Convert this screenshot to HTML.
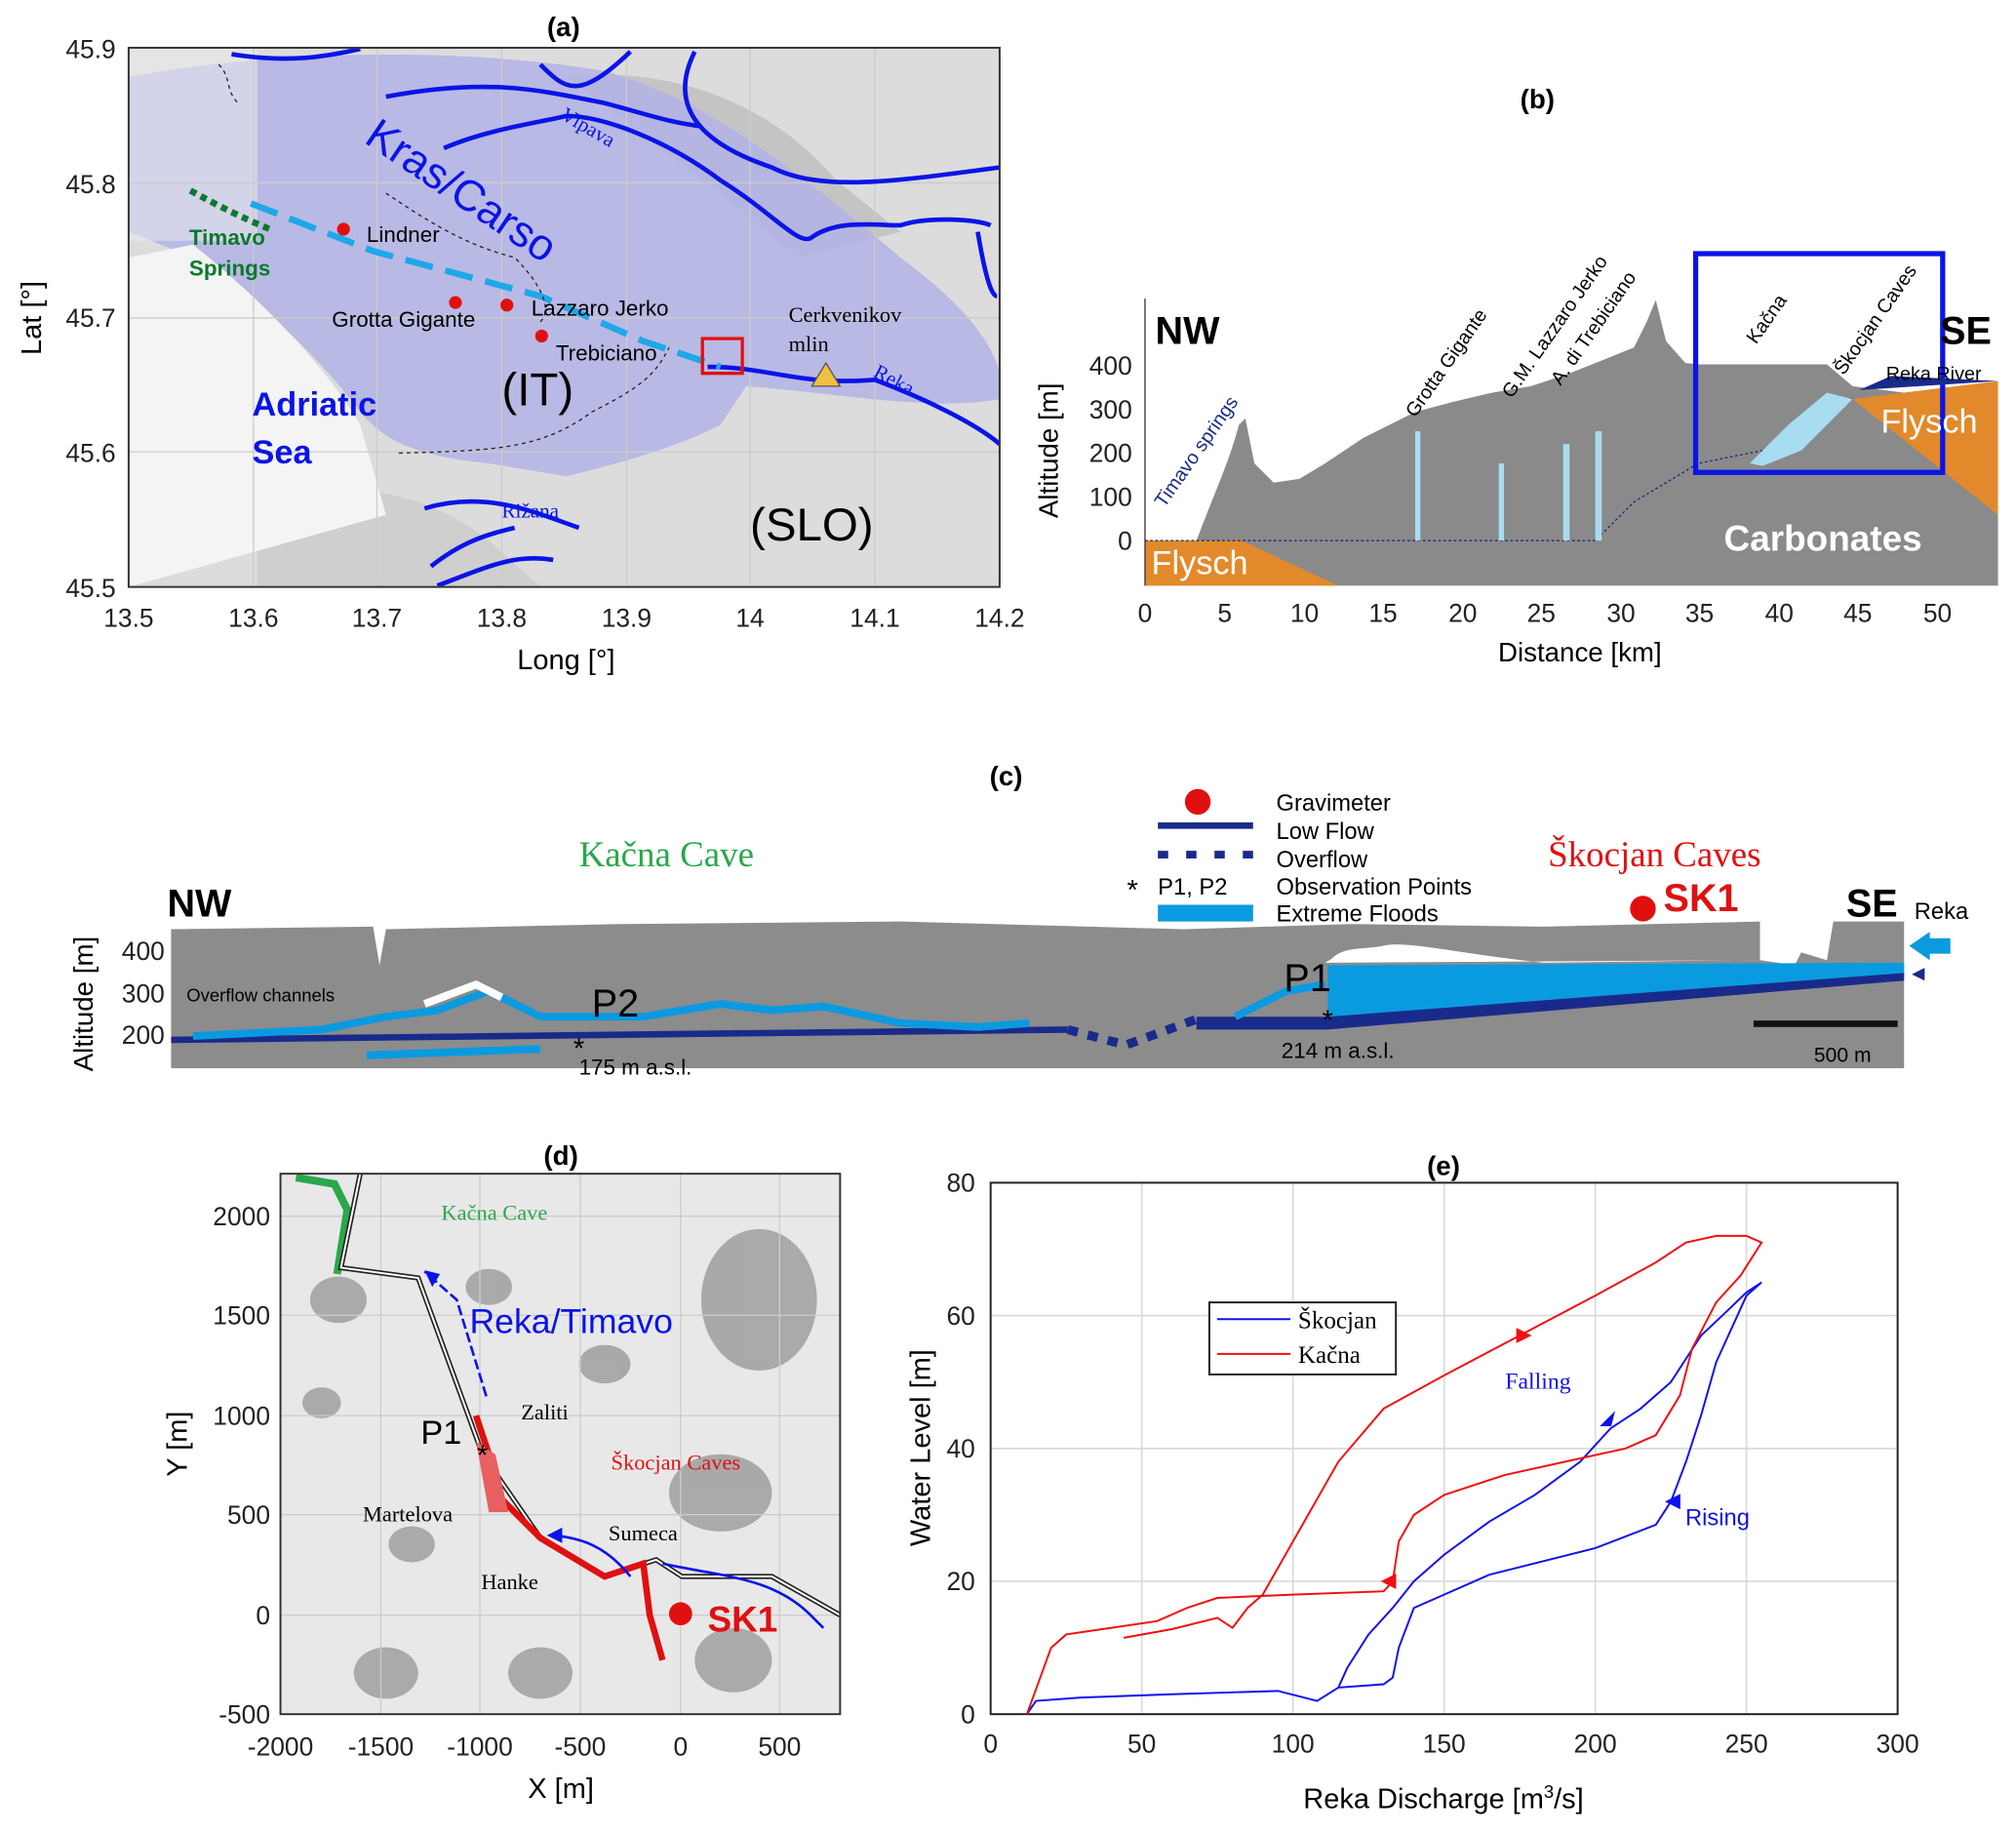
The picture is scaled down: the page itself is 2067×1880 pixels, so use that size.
<!DOCTYPE html>
<html><head><meta charset="utf-8"><style>
html,body{margin:0;padding:0;background:#fff}
svg{display:block;font-family:"Liberation Sans",sans-serif}
.tk{font-size:20px;fill:#222}
.ser{font-family:"Liberation Serif",serif}
</style></head><body>
<svg id="fig" width="2067" height="1880" viewBox="0 0 1567 1425" xmlns="http://www.w3.org/2000/svg">
<!-- ================= PANEL A ================= -->
<g>
<text x="438" y="28" font-size="21" font-weight="bold" text-anchor="middle">(a)</text>
<rect x="100" y="37" width="677" height="419" fill="#dcdcdc"/>
<path d="M440,60 C520,50 600,80 650,140 L700,180 620,200 560,150 Z" fill="#c4c4c4"/>
<path d="M200,390 C260,370 330,380 380,420 L420,456 200,456 Z" fill="#cfcfcf"/>
<path d="M100,60 C200,40 350,35 470,55 C560,80 640,150 700,200 C740,230 770,260 777,290 L777,310 C720,320 650,305 580,300 L560,330 C520,350 480,360 440,370 L380,360 C330,355 300,345 280,320 C250,280 200,230 150,200 L100,180 Z" fill="#b3b3e6" opacity="0.85"/>
<rect x="100" y="37" width="100" height="150" fill="#eeeeee" opacity="0.5"/>
<path d="M100,200 L150,190 C200,230 250,280 280,330 L300,400 L100,456 Z" fill="#f4f4f4"/>
<g stroke="#ccc" stroke-width="1">
<line x1="197" y1="37" x2="197" y2="456"/><line x1="293" y1="37" x2="293" y2="456"/><line x1="390" y1="37" x2="390" y2="456"/><line x1="487" y1="37" x2="487" y2="456"/><line x1="583" y1="37" x2="583" y2="456"/><line x1="680" y1="37" x2="680" y2="456"/>
<line x1="100" y1="142" x2="777" y2="142"/><line x1="100" y1="247" x2="777" y2="247"/><line x1="100" y1="351" x2="777" y2="351"/>
</g>
<g fill="none" stroke="#0a14e6" stroke-width="3.5">
<path d="M180,42 C230,50 260,42 280,38"/>
<path d="M300,75 C380,60 420,70 470,80 C500,88 520,95 545,98"/>
<path d="M420,50 C440,70 450,78 490,40"/>
<path d="M345,115 C380,100 420,95 440,90 C470,90 520,110 560,140 C600,165 620,190 630,185 C650,170 680,175 700,175 C720,168 760,170 770,175"/>
<path d="M540,40 C520,80 540,110 600,130 C640,150 700,140 777,130"/>
<path d="M760,180 C765,210 770,230 775,230"/>
<path d="M550,285 C600,285 620,300 680,295 C720,310 760,330 777,345"/>
<path d="M330,395 C380,380 420,400 450,410 M335,440 C360,420 380,415 400,410"/>
<path d="M340,455 C380,440 400,430 430,435"/>
</g>
<path d="M148,148 C170,160 190,170 210,178" fill="none" stroke="#0a7a2a" stroke-width="5" stroke-dasharray="5,4"/>
<path d="M195,158 L290,195 L420,230 L500,265 L560,285" fill="none" stroke="#1ea8e8" stroke-width="5" stroke-dasharray="22,10"/>
<path d="M170,50 C180,60 175,70 185,80 M300,150 C330,170 360,190 400,200 C420,220 430,240 420,250" fill="none" stroke="#222" stroke-width="1" stroke-dasharray="3,3"/>
<path d="M310,352 C380,350 420,350 460,320 C500,300 510,290 520,270" fill="none" stroke="#222" stroke-width="1" stroke-dasharray="3,3"/>
<g fill="#e01010"><circle cx="267" cy="178" r="5"/><circle cx="354" cy="235" r="5"/><circle cx="394" cy="237" r="5"/><circle cx="421" cy="261" r="5"/></g>
<rect x="546" y="263" width="31" height="27" fill="none" stroke="#e01010" stroke-width="2.5"/>
<polygon points="642,282 631,300 653,300" fill="#f0c040" stroke="#555"/>
<text x="285" y="188" font-size="17">Lindner</text>
<text x="258" y="254" font-size="17">Grotta Gigante</text>
<text x="413" y="245" font-size="17">Lazzaro Jerko</text>
<text x="432" y="280" font-size="17">Trebiciano</text>
<text x="613" y="250" font-size="17" class="ser">Cerkvenikov</text>
<text x="613" y="273" font-size="17" class="ser">mlin</text>
<text x="282" y="110" font-size="34" fill="#0a14e6" transform="rotate(34 282 110)">Kras/Carso</text>
<text x="435" y="92" font-size="16" fill="#0a14e6" class="ser" transform="rotate(30 435 92)">Vipava</text>
<text x="678" y="292" font-size="16" fill="#0a14e6" class="ser" transform="rotate(28 678 292)">Reka</text>
<text x="390" y="402" font-size="16" fill="#0a14e6" class="ser">Rižana</text>
<text x="147" y="190" font-size="17" font-weight="bold" fill="#0a7a2a">Timavo</text>
<text x="147" y="214" font-size="17" font-weight="bold" fill="#0a7a2a">Springs</text>
<text x="196" y="323" font-size="26" font-weight="bold" fill="#0a14e6">Adriatic</text>
<text x="196" y="360" font-size="26" font-weight="bold" fill="#0a14e6">Sea</text>
<text x="390" y="315" font-size="36">(IT)</text>
<text x="583" y="420" font-size="36">(SLO)</text>
<rect x="100" y="37" width="677" height="419" fill="none" stroke="#333" stroke-width="1.5"/>
<g class="tk" text-anchor="end">
<text x="90" y="45">45.9</text><text x="90" y="150">45.8</text><text x="90" y="254">45.7</text><text x="90" y="359">45.6</text><text x="90" y="464">45.5</text></g>
<g class="tk" text-anchor="middle">
<text x="100" y="487">13.5</text><text x="197" y="487">13.6</text><text x="293" y="487">13.7</text><text x="390" y="487">13.8</text><text x="487" y="487">13.9</text><text x="583" y="487">14</text><text x="680" y="487">14.1</text><text x="777" y="487">14.2</text></g>
<text x="440" y="520" font-size="22" text-anchor="middle">Long [°]</text>
<text x="32" y="247" font-size="22" text-anchor="middle" transform="rotate(-90 32 247)">Lat [°]</text>
</g>

<!-- ================= PANEL B ================= -->
<g>
<text x="1195" y="84" font-size="21" font-weight="bold" text-anchor="middle">(b)</text>
<path d="M890,420 L930,420 C945,380 955,360 963,330 L968,325 975,360 990,375 1010,372 1030,360 1060,340 1080,330 1100,320 1130,312 1160,305 1190,300 1220,290 1250,278 1270,270 1280,250 1287,233 1295,265 1310,282 1320,283 1420,283 1440,300 1480,305 1553,297 L1553,455 L890,455 Z" fill="#8a8a8a"/>
<polygon points="890,420 965,420 1040,455 890,455" fill="#e28a2b"/>
<polygon points="1440,310 1553,296 1553,400" fill="#e28a2b"/>
<path d="M890,420 L1240,420 L1270,390 L1320,360 L1370,350 L1420,310 L1440,310" fill="none" stroke="#23237a" stroke-width="1" stroke-dasharray="2,2"/>
<g fill="#a8dcf0"><rect x="1100" y="335" width="4" height="85"/><rect x="1165" y="360" width="4" height="60"/><rect x="1215" y="345" width="5" height="75"/><rect x="1240" y="335" width="5" height="85"/><polygon points="1360,360 1390,330 1420,305 1440,310 1400,350 1370,362"/></g>
<rect x="1318" y="197" width="192" height="170" fill="none" stroke="#0a14e6" stroke-width="4"/>
<polygon points="1553,296 1445,303 1470,292" fill="#1a2a8a"/>
<line x1="890" y1="232" x2="890" y2="455" stroke="#333" stroke-width="1"/>
<text x="898" y="267" font-size="30" font-weight="bold">NW</text>
<text x="1508" y="267" font-size="30" font-weight="bold">SE</text>
<text x="1466" y="295" font-size="15">Reka River</text>
<text x="1462" y="336" font-size="26" fill="#fff">Flysch</text>
<text x="895" y="446" font-size="26" fill="#fff">Flysch</text>
<text x="1340" y="428" font-size="28" font-weight="bold" fill="#fff">Carbonates</text>
<text x="905" y="395" font-size="15" fill="#1a2a8a" transform="rotate(-55 905 395)">Timavo springs</text>
<g font-size="15">
<text x="1100" y="325" transform="rotate(-55 1100 325)">Grotta Gigante</text>
<text x="1175" y="310" transform="rotate(-55 1175 310)">G.M. Lazzaro Jerko</text>
<text x="1213" y="300" transform="rotate(-55 1213 300)">A. di Trebiciano</text>
<text x="1365" y="268" transform="rotate(-55 1365 268)">Kačna</text>
<text x="1433" y="292" transform="rotate(-55 1433 292)">Škocjan Caves</text></g>
<g class="tk" text-anchor="end">
<text x="880" y="427">0</text><text x="880" y="393">100</text><text x="880" y="359">200</text><text x="880" y="325">300</text><text x="880" y="291">400</text></g>
<g class="tk" text-anchor="middle">
<text x="890" y="483">0</text><text x="952" y="483">5</text><text x="1014" y="483">10</text><text x="1075" y="483">15</text><text x="1137" y="483">20</text><text x="1198" y="483">25</text><text x="1260" y="483">30</text><text x="1321" y="483">35</text><text x="1383" y="483">40</text><text x="1444" y="483">45</text><text x="1506" y="483">50</text></g>
<text x="1228" y="514" font-size="21" text-anchor="middle">Distance [km]</text>
<text x="822" y="350" font-size="21" text-anchor="middle" transform="rotate(-90 822 350)">Altitude [m]</text>
</g>

<!-- ================= PANEL C ================= -->
<g>
<text x="782" y="610" font-size="21" font-weight="bold" text-anchor="middle">(c)</text>
<path d="M133,722 L290,720 L295,750 L300,722 L480,718 L700,716 L920,722 L1050,718 L1200,720 L1368,716 L1368,746 L1395,750 L1400,740 L1420,746 L1425,716 L1480,716 L1480,830 L133,830 Z" fill="#8c8c8c"/>
<path d="M1035,745 C1045,735 1060,738 1075,735 C1090,730 1140,742 1200,748 L1360,746 L1368,746 L1030,748 Z" fill="#fff"/>
<polygon points="1032,750 1480,748 1480,758 1032,795" fill="#0a9ae0"/>
<path d="M133,808 L830,800" fill="none" stroke="#1a2a8a" stroke-width="5"/>
<path d="M830,800 L875,812 L930,792" fill="none" stroke="#1a2a8a" stroke-width="7" stroke-dasharray="8,8"/>
<polygon points="930,790 1032,790 1480,756 1480,762 1032,800 930,800" fill="#1a2a8a"/>
<path d="M150,805 L250,800 L300,790 L340,785 L380,770 L420,790 L500,790 L560,780 L600,785 L640,782 L700,795 L760,798 L800,795 M285,820 L420,815 M960,790 L1000,770 L1030,765" fill="none" stroke="#0a9ae0" stroke-width="6"/>
<path d="M330,780 L370,765 L390,775" fill="none" stroke="#fff" stroke-width="6"/>
<text x="130" y="712" font-size="30" font-weight="bold">NW</text>
<text x="1435" y="712" font-size="30" font-weight="bold">SE</text>
<text x="1488" y="714" font-size="18">Reka</text>
<polygon points="1484,735 1500,724 1500,729 1516,729 1516,741 1500,741 1500,746" fill="#0a9ae0"/>
<polygon points="1486,757 1496,752 1496,762" fill="#1a2a8a"/>
<text x="145" y="778" font-size="14">Overflow channels</text>
<text x="460" y="790" font-size="30">P2</text>
<text x="998" y="770" font-size="30">P1</text>
<text x="450" y="822" font-size="22" text-anchor="middle">*</text>
<text x="1032" y="800" font-size="22" text-anchor="middle">*</text>
<text x="450" y="835" font-size="17">175 m a.s.l.</text>
<text x="996" y="822" font-size="17">214 m a.s.l.</text>
<rect x="1363" y="793" width="112" height="5" fill="#111"/>
<text x="1410" y="825" font-size="16">500 m</text>
<text x="518" y="673" font-size="28" fill="#2aa84a" text-anchor="middle" class="ser">Kačna Cave</text>
<text x="1286" y="673" font-size="28" fill="#e01010" text-anchor="middle" class="ser">Škocjan Caves</text>
<circle cx="1277" cy="706" r="10" fill="#e01010"/>
<text x="1293" y="708" font-size="30" font-weight="bold" fill="#e01010">SK1</text>
<g>
<circle cx="931" cy="623" r="10" fill="#e01010"/><text x="992" y="630" font-size="18">Gravimeter</text>
<rect x="900" y="639" width="74" height="5" fill="#1a2a8a"/><text x="992" y="652" font-size="18">Low Flow</text>
<line x1="900" y1="664" x2="974" y2="664" stroke="#1a2a8a" stroke-width="6" stroke-dasharray="8,14"/><text x="992" y="674" font-size="18">Overflow</text>
<text x="876" y="699" font-size="22">*</text><text x="900" y="695" font-size="18">P1, P2</text><text x="992" y="695" font-size="18">Observation Points</text>
<rect x="900" y="703" width="74" height="13" fill="#0a9ae0"/><text x="992" y="716" font-size="18">Extreme Floods</text></g>
<g class="tk" text-anchor="end"><text x="128" y="746">400</text><text x="128" y="779">300</text><text x="128" y="811">200</text></g>
<text x="72" y="780" font-size="21" text-anchor="middle" transform="rotate(-90 72 780)">Altitude [m]</text>
</g>

<!-- ================= PANEL D ================= -->
<g>
<text x="436" y="905" font-size="21" font-weight="bold" text-anchor="middle">(d)</text>
<rect x="218" y="912" width="435" height="420" fill="#e8e8e8"/>
<g fill="#9a9a9a" opacity="0.8">
<ellipse cx="263" cy="1010" rx="22" ry="18"/><ellipse cx="380" cy="1000" rx="18" ry="14"/><ellipse cx="590" cy="1010" rx="45" ry="55"/><ellipse cx="560" cy="1160" rx="40" ry="30"/><ellipse cx="300" cy="1300" rx="25" ry="20"/><ellipse cx="420" cy="1300" rx="25" ry="20"/><ellipse cx="570" cy="1290" rx="30" ry="25"/><ellipse cx="470" cy="1060" rx="20" ry="15"/><ellipse cx="250" cy="1090" rx="15" ry="12"/><ellipse cx="320" cy="1200" rx="18" ry="14"/></g>
<g stroke="#ccc" stroke-width="1"><line x1="296" y1="912" x2="296" y2="1332"/><line x1="373" y1="912" x2="373" y2="1332"/><line x1="451" y1="912" x2="451" y2="1332"/><line x1="529" y1="912" x2="529" y2="1332"/><line x1="606" y1="912" x2="606" y2="1332"/><line x1="218" y1="945" x2="653" y2="945"/><line x1="218" y1="1022" x2="653" y2="1022"/><line x1="218" y1="1100" x2="653" y2="1100"/><line x1="218" y1="1177" x2="653" y2="1177"/><line x1="218" y1="1255" x2="653" y2="1255"/></g>
<path d="M230,915 L260,920 L270,940 L262,990" fill="none" stroke="#2aa84a" stroke-width="6"/>
<path d="M280,912 L265,985 L325,993 L375,1130 L420,1195 L470,1225 L510,1212 L530,1225 L600,1225 L653,1255" fill="none" stroke="#222" stroke-width="4"/>
<path d="M280,912 L265,985 L325,993 L375,1130 L420,1195 L470,1225 L510,1212 L530,1225 L600,1225 L653,1255" fill="none" stroke="#fff" stroke-width="1.5"/>
<path d="M370,1100 L380,1130 L385,1160 L420,1195 L470,1225 L500,1215 L505,1255 L515,1290" fill="none" stroke="#e01010" stroke-width="5"/>
<polygon points="370,1120 385,1130 395,1175 380,1175" fill="#e86060"/>
<path d="M378,1085 L355,1010 L330,988" fill="none" stroke="#0a14e6" stroke-width="2" stroke-dasharray="8,3"/>
<polygon points="330,987 342,990 336,1000" fill="#0a14e6"/>
<path d="M490,1225 C470,1200 450,1195 430,1193 M515,1215 C560,1225 600,1225 630,1255 L640,1265" fill="none" stroke="#0a14e6" stroke-width="2"/>
<polygon points="425,1193 437,1187 437,1199" fill="#0a14e6"/>
<text x="375" y="1138" font-size="22" text-anchor="middle">*</text>
<text x="327" y="1122" font-size="26">P1</text>
<text x="365" y="1036" font-size="27" fill="#0a14e6">Reka/Timavo</text>
<text x="343" y="948" font-size="17" fill="#2aa84a" class="ser">Kačna Cave</text>
<text x="475" y="1142" font-size="17" fill="#e01010" class="ser">Škocjan Caves</text>
<g font-size="17" class="ser"><text x="405" y="1103">Zaliti</text><text x="282" y="1182">Martelova</text><text x="473" y="1197">Sumeca</text><text x="374" y="1235">Hanke</text></g>
<circle cx="529" cy="1254" r="9" fill="#e01010"/>
<text x="550" y="1268" font-size="28" font-weight="bold" fill="#e01010">SK1</text>
<rect x="218" y="912" width="435" height="420" fill="none" stroke="#333" stroke-width="1.5"/>
<g class="tk" text-anchor="end"><text x="210" y="952">2000</text><text x="210" y="1029">1500</text><text x="210" y="1107">1000</text><text x="210" y="1184">500</text><text x="210" y="1262">0</text><text x="210" y="1339">-500</text></g>
<g class="tk" text-anchor="middle"><text x="218" y="1364">-2000</text><text x="296" y="1364">-1500</text><text x="373" y="1364">-1000</text><text x="451" y="1364">-500</text><text x="529" y="1364">0</text><text x="606" y="1364">500</text></g>
<text x="436" y="1397" font-size="22" text-anchor="middle">X [m]</text>
<text x="145" y="1122" font-size="22" text-anchor="middle" transform="rotate(-90 145 1122)">Y [m]</text>
</g>

<!-- ================= PANEL E ================= -->
<g id="panelE">
<text x="1122" y="913" font-size="21" font-weight="bold" text-anchor="middle">(e)</text>
</g>
</svg>
<script>
const xTicks=[0,50,100,150,200,250,300];
const yTicks=[0,20,40,60,80];
const skocjanQ=[12,15,30,60,95,108,115,130,133,135,140,150,165,200,220,225,230,235,240,245,250,255,250,242,235,225,215,205,195,180,165,150,140,133,125,118,115,108];
const skocjanH=[0,2,2.5,3,3.5,2,4,4.5,5.5,10,16,18,21,25,28.5,32,38,45,53,58,63,65,63.5,60,57,50,46,43,38,33,29,24,20,16,12,7,4,2];
const kacnaQ=[12,20,25,40,55,65,75,100,130,133,135,140,150,170,190,210,220,228,232,240,248,255,250,240,230,220,200,175,150,130,115,105,95,90,85,80,75,60,44];
const kacnaH=[0,10,12,13,14,16,17.5,18,18.5,20,26,30,33,36,38,40,42,48,55,62,66,71,72,72,71,68,63,57,51,46,38,30,22,18,16,13,14.5,12.8,11.5];
const X0=770,X1=1475,Y0=1332,Y1=919;
const sx=q=>X0+(q/300)*(X1-X0);
const sy=h=>Y0-(h/80)*(Y0-Y1);
const NS='http://www.w3.org/2000/svg';
const g=document.getElementById('panelE');
function mk(tag,attrs,parent){const e=document.createElementNS(NS,tag);for(const k in attrs)e.setAttribute(k,attrs[k]);(parent||g).appendChild(e);return e;}
const grid=mk('g',{stroke:'#d8d8d8','stroke-width':1.2});


xTicks.forEach(t=>{mk('line',{x1:sx(t),x2:sx(t),y1:Y1,y2:Y0},grid);
 const tx=mk('text',{x:sx(t),y:Y0+30,'text-anchor':'middle',class:'tk'});tx.textContent=t;
 
 });
yTicks.forEach(t=>{mk('line',{x1:X0,x2:X1,y1:sy(t),y2:sy(t)},grid);
 const tx=mk('text',{x:X0-12,y:sy(t)+7,'text-anchor':'end',class:'tk'});tx.textContent=t;
 
 });
const frame=mk('rect',{x:X0,y:Y1,width:X1-X0,height:Y0-Y1,fill:'none',stroke:'#222','stroke-width':1.5});


function line(qs,hs,col,name){const p=mk('polyline',{points:qs.map((q,i)=>sx(q)+','+sy(hs[i])).join(' '),fill:'none',stroke:col,'stroke-width':1.5});
 
 }
line(skocjanQ,skocjanH,'#1010f0','skocjan-line');
line(kacnaQ,kacnaH,'#f01010','kacna-line');
function arrow(q,h,dir,col,name){const x=sx(q),y=sy(h);let pts;
 if(dir==='r')pts=[[x+7,y],[x-5,y-6],[x-5,y+6]];else if(dir==='l')pts=[[x-7,y],[x+5,y-6],[x+5,y+6]];else pts=[[x-6,y+6],[x+6,y-6],[x+3,y+6]];
 const a=mk('polygon',{points:pts.map(p=>p.join(',')).join(' '),fill:col});
 
 }
arrow(176,57,'r','#f01010','kacna-falling-arrow');
arrow(132,20,'l','#f01010','kacna-rising-arrow');
arrow(204,44.5,'d','#1010f0','skocjan-falling-arrow');
arrow(226,32,'l','#1010f0','skocjan-rising-arrow');
const t1=mk('text',{x:1170,y:1079,'font-size':18,fill:'#1010f0',class:'ser'});t1.textContent='Falling';


const t2=mk('text',{x:1310,y:1185,'font-size':18,fill:'#1010f0'});t2.textContent='Rising';


const lg=mk('g',{});


mk('rect',{x:940,y:1012,width:145,height:56,fill:'#fff',stroke:'#222','stroke-width':1.5},lg);
mk('line',{x1:946,x2:1003,y1:1025,y2:1025,stroke:'#1010f0','stroke-width':1.5},lg);
mk('line',{x1:946,x2:1003,y1:1052,y2:1052,stroke:'#f01010','stroke-width':1.5},lg);
const l1=mk('text',{x:1009,y:1032,'font-size':19,class:'ser'},lg);l1.textContent='Škocjan';
const l2=mk('text',{x:1009,y:1059,'font-size':19,class:'ser'},lg);l2.textContent='Kačna';
const xt=mk('text',{x:1122,y:1405,'font-size':22,'text-anchor':'middle'});xt.innerHTML='Reka Discharge [m<tspan dy="-8" font-size="14">3</tspan><tspan dy="8">/s]</tspan>';


const yt=mk('text',{x:723,y:1125,'font-size':22,'text-anchor':'middle',transform:'rotate(-90 723 1125)'});yt.textContent='Water Level [m]';


</script>
</body></html>
